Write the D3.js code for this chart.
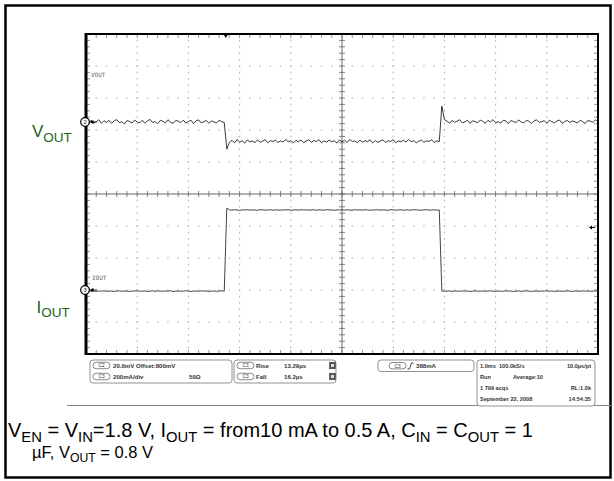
<!DOCTYPE html>
<html><head><meta charset="utf-8">
<script src="https://cdn.jsdelivr.net/npm/d3@7"></script>
<style>
html,body{margin:0;padding:0;background:#fff;}
svg{display:block;font-family:"Liberation Sans",Arial,sans-serif;}
</style></head>
<body>
<svg id="c" width="614" height="481"></svg>
<script>
// ---------- DATA ----------
// time axis: 1.0 ms window, 10 divisions of 100 µs, samples every 5 µs
const timeDomain = [0, 1000];
const sampleStep = 5;
// channel 2 (VOUT): 20 mV/div, offset 800 mV, reference marker at +2.25 div
const voutPerDiv = 20, voutOffset = 800, voutRefDiv = 2.25;
// channel 3 (IOUT): 200 mA/div, zero marker at -3 div
const ioutPerDiv = 200, ioutRefDiv = -3;

const vout = [
 800.6,799.0,801.1,799.4,800.2,801.4,799.2,800.8,799.7,801.0,
 799.1,800.7,801.5,799.6,800.1,798.8,800.9,800.3,799.3,801.2,
 800.0,799.5,801.1,799.2,800.8,801.6,799.7,800.2,798.9,801.0,
 800.5,799.4,801.4,800.0,799.1,800.9,800.6,799.6,801.2,799.3,
 800.3,801.1,799.0,800.8,801.3,799.5,800.1,801.0,799.2,800.7,
 800.0,799.4,801.1,800.2,799.7,
 783.0,787.2,
 788.6,786.9,789.1,787.4,788.3,786.8,788.8,787.6,788.2,787.1,
 788.9,787.3,788.0,789.0,787.0,788.4,787.8,788.7,787.2,788.2,
 787.5,789.1,787.7,788.3,786.9,788.6,787.6,788.8,787.1,788.0,
 788.9,787.3,788.4,787.8,789.0,787.0,788.2,787.5,788.7,787.7,
 788.3,786.8,788.8,787.6,788.6,787.2,789.1,787.8,788.2,787.1,
 788.7,787.4,788.3,787.7,788.9,786.9,788.4,787.3,788.0,788.8,
 787.2,788.3,787.8,789.0,787.1,788.2,787.6,788.6,787.4,789.1,
 787.7,788.4,787.0,788.0,788.8,787.3,788.3,787.8,788.9,787.2,
 788.2,787.7,
 810.0,801.5,
 800.5,799.3,801.0,799.8,800.6,801.4,799.4,800.1,801.1,799.1,
 800.8,800.2,799.5,801.2,800.4,799.2,801.0,800.0,801.5,799.6,
 800.2,799.3,801.1,800.7,798.9,800.9,800.3,799.6,801.3,800.0,
 799.4,801.0,800.5,799.1,800.6,801.4,799.8,800.1,800.9,799.3,
 801.1,800.2,799.5,800.7,801.2,799.2,800.3,801.0,799.7,800.6,
 800.1,799.4,801.1,800.3,799.0,800.9,800.5,799.8,801.3,800.2
];
const iout = [
 -7,-5,-8,-6,-9,-6,-7,-5,-8,-7,
 -6,-9,-7,-5,-8,-6,-7,-9,-6,-7,
 -5,-8,-7,-6,-9,-7,-5,-8,-6,-7,
 -8,-6,-7,-5,-9,-7,-6,-8,-7,-5,
 -7,-9,-6,-7,-8,-5,-7,-6,-9,-7,
 -6,-8,-7,-5,-7,
 512,
 501,499,502,500,498,501,500,502,499,501,
 500,498,502,501,499,500,502,498,501,500,
 499,501,500,502,498,500,501,499,502,500,
 501,499,500,502,498,501,500,499,502,501,
 500,498,501,500,502,499,501,500,498,502,
 500,501,499,502,500,498,501,500,502,499,
 501,500,498,502,501,499,500,502,498,501,
 500,499,502,501,500,498,501,502,499,500,
 501,499,500,
 -6,-8,-7,-5,-9,-6,-7,-8,-5,-7,
 -6,-9,-7,-5,-8,-7,-6,-8,-7,-5,
 -7,-9,-6,-7,-8,-5,-7,-6,-9,-7,
 -6,-8,-7,-5,-7,-9,-6,-7,-8,-6,
 -7,-5,-8,-6,-9,-7,-6,-8,-7,-5,
 -7,-9,-6,-7,-8,-5,-7,-6,-8,-7,
 -6,-8
];
const triggerTime = 273;     // µs
const triggerLevelMA = 388;  // mA
const chLabels = ["VOUT", "IOUT"];
const panel1 = [["C2", "20.0mV  Offset:800mV", ""], ["C3", "200mA/div", "50\u03A9"]];
const panel2 = [["C3", "Rise", "13.29\u00B5s"], ["C3", "Fall", "16.2\u00B5s"]];
const panel3 = ["C3", "388mA"];
const panel4 = [["1.0ms", "100.0kS/s", "10.0\u00B5s/pt"], ["Run", "Average:10", ""], ["1 799 acqs", "", "RL:1.0k"], ["September 22, 2008", "", "14:54:35"]];

// ---------- DRAW ----------
const svg = d3.select("#c");
const P = {l: 86, r: 598, t: 34, b: 354};
const x = d3.scaleLinear().domain(timeDomain).range([P.l, P.r]);
const yDiv = d3.scaleLinear().domain([-5, 5]).range([P.b, P.t]);
const yV = d3.scaleLinear()
  .domain([voutOffset - (5 + voutRefDiv) * voutPerDiv, voutOffset + (5 - voutRefDiv) * voutPerDiv])
  .range([P.b, P.t]);
const yI = d3.scaleLinear()
  .domain([-(5 + ioutRefDiv) * ioutPerDiv, (5 - ioutRefDiv) * ioutPerDiv])
  .range([P.b, P.t]);

// outer frame
svg.append("rect").attr("x", 5.5).attr("y", 5.5).attr("width", 605).attr("height", 472)
  .attr("fill", "none").attr("stroke", "#000").attr("stroke-width", 2.5);

const g = svg.append("g");
const majorT = d3.range(0, 1000.01, 100);
const minorT = d3.range(0, 1000.01, 20);
const majorD = d3.range(-5, 5.01, 1);
const minorD = d3.range(-5, 5.01, 0.2);

// dotted grid
majorT.filter(t => t > 0 && t < 1000 && t !== 500).forEach(t => {
  g.selectAll(null).data(minorD).enter().append("rect")
    .attr("x", x(t) - 0.5).attr("y", d => yDiv(d) - 0.75).attr("width", 1).attr("height", 1.5)
    .attr("fill", "#aaa");
});
majorD.filter(d => d > -5 && d < 5 && d !== 0).forEach(d => {
  g.selectAll(null).data(minorT).enter().append("rect")
    .attr("x", t => x(t) - 0.75).attr("y", yDiv(d) - 0.5).attr("width", 1.5).attr("height", 1)
    .attr("fill", "#aaa");
});

// center axes with minor ticks
g.append("line").attr("x1", x(500)).attr("x2", x(500)).attr("y1", P.t).attr("y2", P.b)
  .attr("stroke", "#666").attr("stroke-width", 1);
g.append("line").attr("x1", P.l).attr("x2", P.r).attr("y1", yDiv(0)).attr("y2", yDiv(0))
  .attr("stroke", "#666").attr("stroke-width", 1);
g.selectAll(null).data(minorT).enter().append("line")
  .attr("x1", t => x(t)).attr("x2", t => x(t)).attr("y1", yDiv(0) - 3).attr("y2", yDiv(0) + 3)
  .attr("stroke", "#666").attr("stroke-width", 0.8);
g.selectAll(null).data(minorD).enter().append("line")
  .attr("y1", d => yDiv(d)).attr("y2", d => yDiv(d)).attr("x1", x(500) - 3).attr("x2", x(500) + 3)
  .attr("stroke", "#666").attr("stroke-width", 0.8);
// border ticks
g.selectAll(null).data(minorT).enter().append("line")
  .attr("x1", t => x(t)).attr("x2", t => x(t)).attr("y1", P.t).attr("y2", P.t + 4)
  .attr("stroke", "#777").attr("stroke-width", 0.8);
g.selectAll(null).data(minorT).enter().append("line")
  .attr("x1", t => x(t)).attr("x2", t => x(t)).attr("y1", P.b).attr("y2", P.b - 4)
  .attr("stroke", "#777").attr("stroke-width", 0.8);
g.selectAll(null).data(minorD).enter().append("line")
  .attr("y1", d => yDiv(d)).attr("y2", d => yDiv(d)).attr("x1", P.l).attr("x2", P.l + 4)
  .attr("stroke", "#777").attr("stroke-width", 0.8);
g.selectAll(null).data(minorD).enter().append("line")
  .attr("y1", d => yDiv(d)).attr("y2", d => yDiv(d)).attr("x1", P.r).attr("x2", P.r - 4)
  .attr("stroke", "#777").attr("stroke-width", 0.8);

// plot border
g.append("rect").attr("x", P.l).attr("y", P.t).attr("width", P.r - P.l).attr("height", P.b - P.t)
  .attr("fill", "none").attr("stroke", "#000").attr("stroke-width", 2);
g.append("line").attr("x1", P.l).attr("x2", P.l).attr("y1", P.t - 1).attr("y2", P.b + 1)
  .attr("stroke", "#000").attr("stroke-width", 3);

// traces
const lineV = d3.line().x((d, i) => x(i * sampleStep)).y(d => yV(d));
const lineI = d3.line().x((d, i) => x(i * sampleStep)).y(d => yI(d));
g.append("path").datum(vout).attr("d", lineV).attr("fill", "none")
  .attr("stroke", "#222").attr("stroke-width", 0.9);
g.append("path").datum(iout).attr("d", lineI).attr("fill", "none")
  .attr("stroke", "#444").attr("stroke-width", 1);

// channel labels inside the plot
g.append("text").attr("x", P.l + 5).attr("y", yDiv(3.65)).text(chLabels[0])
  .attr("font-size", 6).attr("fill", "#666").attr("font-family", "DejaVu Sans Mono");
g.append("text").attr("x", P.l + 6).attr("y", yI(60)).text(chLabels[1])
  .attr("font-size", 6).attr("fill", "#666").attr("font-family", "DejaVu Sans Mono");

// channel reference markers
function marker(cy, label) {
  const m = svg.append("g");
  m.append("circle").attr("cx", P.l - 1).attr("cy", cy).attr("r", 4.3)
    .attr("fill", "#fff").attr("stroke", "#000").attr("stroke-width", 1.2);
  m.append("text").attr("x", P.l - 1).attr("y", cy + 2).attr("text-anchor", "middle")
    .attr("font-size", 5.5).attr("fill", "#000").text(label);
  m.append("path").attr("d", `M${P.l + 3.5},${cy} l4,-2 l0,4 z`).attr("fill", "#000");
  m.append("line").attr("x1", P.l + 7).attr("x2", P.l + 11).attr("y1", cy).attr("y2", cy)
    .attr("stroke", "#000").attr("stroke-width", 0.8);
}
marker(yV(voutOffset), "2");
marker(yI(0), "3");

// trigger markers
svg.append("path").attr("d", `M${x(triggerTime) - 2.5},${P.t} l5,0 l-2.5,4 z`).attr("fill", "#000");
svg.append("path").attr("d", `M${P.r - 9},${yI(triggerLevelMA) - 0.5} l3,-2 l0,4 z`).attr("fill", "#000");
svg.append("line").attr("x1", P.r - 6).attr("x2", P.r - 3).attr("y1", yI(triggerLevelMA) - 0.5)
  .attr("y2", yI(triggerLevelMA) - 0.5).attr("stroke", "#000").attr("stroke-width", 1);

// green side labels
const green = "#1b641b";
const vl = svg.append("text").attr("x", 32).attr("y", 137).attr("fill", green);
vl.append("tspan").attr("font-size", 17).text("V");
vl.append("tspan").attr("font-size", 13.5).attr("dy", 4.5).text("OUT");
const il = svg.append("text").attr("x", 36.5).attr("y", 312.5).attr("fill", green);
il.append("tspan").attr("font-size", 17).text("I");
il.append("tspan").attr("font-size", 13.5).attr("dy", 4.5).text("OUT");

// info panels
function pill(px, py, label) {
  svg.append("rect").attr("x", px).attr("y", py - 3.2).attr("width", 17).attr("height", 6.4)
    .attr("rx", 3.2).attr("fill", "#fff").attr("stroke", "#555").attr("stroke-width", 0.7);
  svg.append("text").attr("x", px + 8.5).attr("y", py + 1.8).attr("text-anchor", "middle")
    .attr("font-size", 4.8).attr("fill", "#333").text(label);
}
function box(bx, by, w, h) {
  svg.append("rect").attr("x", bx).attr("y", by).attr("width", w).attr("height", h)
    .attr("rx", 3).attr("fill", "#fff").attr("stroke", "#777").attr("stroke-width", 0.8);
}
function txt(tx, ty, s, anchor, fs) {
  svg.append("text").attr("x", tx).attr("y", ty).attr("font-size", fs || 6.1)
    .attr("font-weight", "bold").attr("fill", "#333")
    .attr("text-anchor", anchor || "start").text(s);
}
// separator line
svg.append("line").attr("x1", 67).attr("x2", 611).attr("y1", 405.5).attr("y2", 405.5)
  .attr("stroke", "#888").attr("stroke-width", 1);

box(90, 360, 142, 23);
panel1.forEach((r, i) => {
  const cy = 365.5 + i * 11;
  pill(93, cy, r[0]);
  txt(113, cy + 2.1, r[1]);
  if (r[2]) txt(189, cy + 2.1, r[2]);
});
box(234, 360, 102, 23);
panel2.forEach((r, i) => {
  const cy = 365.5 + i * 11;
  pill(237, cy, r[0]);
  txt(256, cy + 2.1, r[1]);
  txt(284, cy + 2.1, r[2]);
  svg.append("rect").attr("x", 329.5).attr("y", cy - 3.3).attr("width", 6).attr("height", 6.6)
    .attr("fill", "#555").attr("stroke", "#333").attr("stroke-width", 0.5);
  svg.append("rect").attr("x", 331).attr("y", cy - 1.5).attr("width", 3).attr("height", 3)
    .attr("fill", "#ddd");
});
box(378, 360, 96, 11.5);
pill(389, 365.7, panel3[0]);
svg.append("path").attr("d", "M407.5,369 l2,0 l2,-6 l2,0").attr("fill", "none")
  .attr("stroke", "#333").attr("stroke-width", 0.9);
txt(416, 367.9, panel3[1]);
box(477, 360, 118, 46);
panel4.forEach((r, i) => {
  const ty = 367.5 + i * 11.3;
  txt(480, ty, r[0], "start", 5.6);
  if (r[1]) txt(i === 0 ? 499 : 513, ty, r[1], "start", 5.6);
  if (r[2]) txt(591, ty, r[2], "end", 5.6);
});

// caption
const cap = svg.append("g").attr("fill", "#000");
function capLine(xx, yy, fs, parts) {
  const t = cap.append("text").attr("x", xx).attr("y", yy).attr("font-size", fs);
  const sub = fs * 0.74, sh = fs * 0.24;
  parts.forEach(p => {
    if (p[1]) t.append("tspan").attr("font-size", sub).attr("dy", sh).text(p[0]);
    else t.append("tspan").attr("dy", p[2] ? -sh : 0).text(p[0]);
  });
}
capLine(8, 437, 20, [["V"], ["EN", 1], [" = V", 0, 1], ["IN", 1], ["=1.8 V, I", 0, 1], ["OUT", 1],
  [" = from10 mA to 0.5 A, C", 0, 1], ["IN", 1], [" = C", 0, 1], ["OUT", 1], [" = 1", 0, 1]]);
capLine(32, 458, 16.5, [["\u00B5F, V"], ["OUT", 1], [" = 0.8 V", 0, 1]]);
</script>
</body></html>
